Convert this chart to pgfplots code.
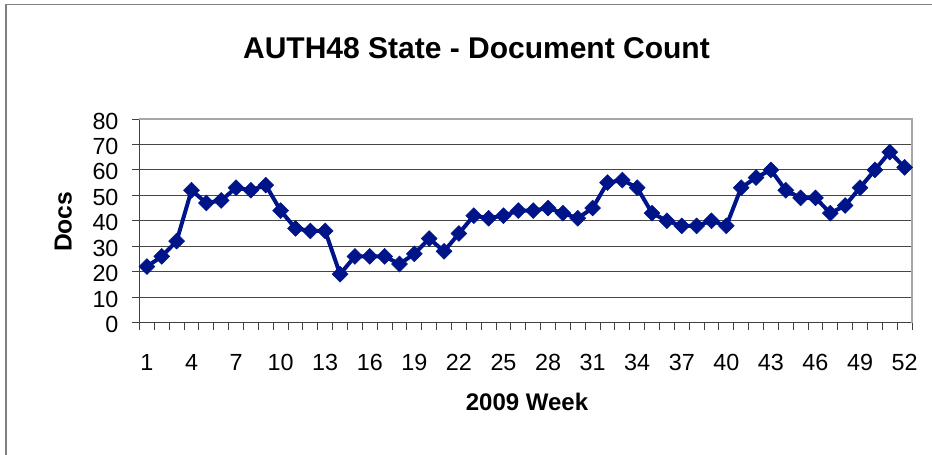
\documentclass[border=0pt]{standalone}
\usepackage{fontspec}
\setmainfont{Liberation Sans}
\usepackage{pgfplots}
\pgfplotsset{compat=1.18}
\definecolor{navyline}{RGB}{0,20,137}
\definecolor{gridgray}{RGB}{70,70,70}
\definecolor{framegray}{RGB}{128,128,128}

\pgfplotstableread{
week docs
1 22
2 26
3 32
4 52
5 47
6 48
7 53
8 52
9 54
10 44
11 37
12 36
13 36
14 19
15 26
16 26
17 26
18 23
19 27
20 33
21 28
22 35
23 42
24 41
25 42
26 44
27 44
28 45
29 43
30 41
31 45
32 55
33 56
34 53
35 43
36 40
37 38
38 38
39 40
40 38
41 53
42 57
43 60
44 52
45 49
46 49
47 43
48 46
49 53
50 60
51 67
52 61
}\authdata

\begin{document}
\begin{tikzpicture}[x=0.75pt,y=0.75pt]
\path[use as bounding box] (0,0) rectangle (932,454);
% outer chart frame (right and bottom edges are cut off)
\draw[framegray, line width=1.2pt] (6,-5) -- (6,449.5) -- (940,449.5);
\begin{axis}[
  at={(104.625pt,98.625pt)}, anchor=south west,
  scale only axis, width=579.4pt, height=152.6pt,
  xmin=0.5, xmax=52.5, ymin=0, ymax=80,
  axis lines*=left,
  axis line style={black!75, line width=1pt},
  clip=false,
  /pgf/number format/assume math mode=true,
  tick align=outside,
  major tick length=5.25pt,
  tick style={black!75, line width=0.8pt},
  xtick={0.5,1.5,...,52.5},
  xticklabels={},
  extra x ticks={1,4,...,52},
  extra x tick labels={1,4,7,10,13,16,19,22,25,28,31,34,37,40,43,46,49,52},
  extra x tick style={major tick length=0pt, grid=none,
    xticklabel style={yshift=-20.5pt}},
  ytick={0,10,...,80},
  ymajorgrids,
  grid style={gridgray, line width=0.8pt},
  tick label style={font=\fontsize{17.5}{20}\selectfont},
  yticklabel style={xshift=-7pt, yshift=-1.5pt},
  title={AUTH48 State - Document Count},
  title style={font=\fontsize{22.5}{26}\selectfont\bfseries,
    at={(axis description cs:0.4362,1.2983)}, anchor=base, yshift=-6pt},
  xlabel={2009 Week},
  xlabel style={font=\fontsize{18}{21}\selectfont\bfseries,
    at={(axis description cs:0.5016,-0.4334)}, anchor=base},
  ylabel={Docs},
  ylabel style={font=\fontsize{18.5}{21}\selectfont\bfseries,
    at={(axis description cs:-0.0878,0.4953)}, anchor=base},
]
\addplot[navyline, line width=3pt,
  mark=square*, mark size=4.2pt,
  mark options={rotate=45, fill=navyline, draw=navyline, line width=0.4pt}]
  table[x=week, y=docs] {\authdata};
% light plot-area border on top and right
\draw[black!35, line width=1pt] (axis cs:0.5,80) -- (axis cs:52.5,80) -- (axis cs:52.5,0);
\end{axis}
\end{tikzpicture}
\end{document}
